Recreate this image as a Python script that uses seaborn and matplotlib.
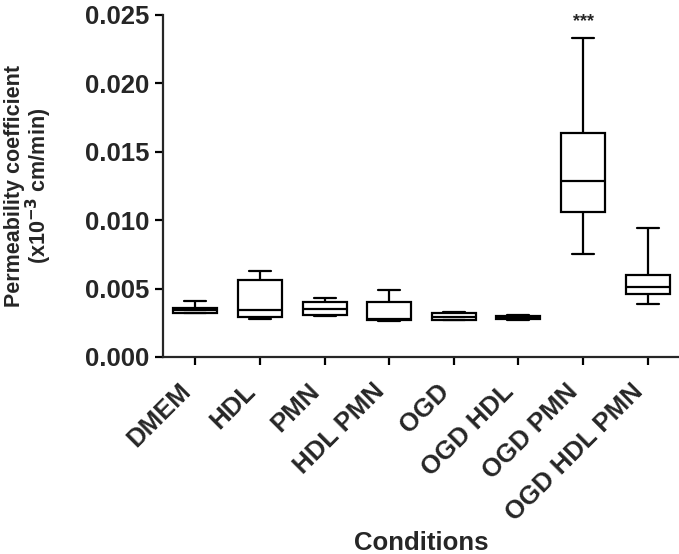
import numpy as np
import pandas as pd
import seaborn as sns
import matplotlib
matplotlib.use("Agg")
import matplotlib.pyplot as plt

# Five-number summaries (min, Q1, median, Q3, max)
conditions = ["DMEM", "HDL", "PMN", "HDL PMN", "OGD", "OGD HDL", "OGD PMN", "OGD HDL PMN"]
whisker_lo = [0.0032, 0.0028, 0.0030, 0.0026, 0.0027, 0.0027, 0.0075, 0.0039]
q1 = [0.0032, 0.0029, 0.0031, 0.0027, 0.0027, 0.0028, 0.0106, 0.0046]
median = [0.00345, 0.0034, 0.0035, 0.0028, 0.0029, 0.0029, 0.0129, 0.0051]
q3 = [0.0036, 0.0056, 0.0040, 0.0040, 0.0032, 0.0030, 0.0164, 0.0060]
whisker_hi = [0.0041, 0.0063, 0.0043, 0.0049, 0.0033, 0.0031, 0.0233, 0.0094]
yticks = [0.000, 0.005, 0.010, 0.015, 0.020, 0.025]
star_label = "***"
star_condition = "OGD PMN"
star_y = 0.0245

# long table: five values per condition -> quartiles land exactly on q1/median/q3
rows = []
for i, c in enumerate(conditions):
    for v in (whisker_lo[i], q1[i], median[i], q3[i], whisker_hi[i]):
        rows.append({"Condition": c, "Value": v})
df = pd.DataFrame(rows)

sns.set_style("ticks")
plt.rcParams["font.family"] = ["Liberation Sans", "DejaVu Sans"]
plt.rcParams["font.weight"] = "bold"
plt.rcParams["mathtext.default"] = "bf"

fig = plt.figure(figsize=(6.79, 5.54), dpi=100)
ax = fig.add_axes([163 / 679, 1 - 357 / 554, 517 / 679, 342 / 554])

sns.boxplot(data=df, x="Condition", y="Value", order=conditions, whis=(0, 100),
            width=0.68, color="white", linecolor="black", linewidth=1.6,
            showfliers=False, ax=ax)

ax.text(conditions.index(star_condition), star_y, star_label, ha="center", va="center",
        fontsize=13, fontweight="bold")

ax.set_xlim(-0.5, len(conditions) - 0.5)
ax.set_ylim(0, 0.025)
ax.set_yticks(yticks)
ax.set_yticklabels([f"{t:.3f}" for t in yticks], fontsize=18.5, fontweight="bold")
ax.set_xticks(range(len(conditions)))
ax.set_xticklabels(conditions, rotation=45, ha="right", va="top",
                   fontsize=18.5, fontweight="bold")
ax.tick_params(axis="both", width=1.6, length=6, color="black")
ax.tick_params(axis="y", pad=4)
ax.tick_params(axis="x", pad=10)
for s in ("left", "bottom"):
    ax.spines[s].set_linewidth(1.6)
sns.despine(ax=ax)

ax.set_xlabel("Conditions", fontsize=18.5, fontweight="bold")
ax.xaxis.set_label_coords(0.5, -0.51)
ax.set_ylabel("Permeability coefficient\n(x10$^{-3}$ cm/min)", fontsize=15.5,
              fontweight="bold", linespacing=0.95)
ax.yaxis.set_label_coords(-0.21, 0.5)

fig.savefig("out.png", dpi=100)
